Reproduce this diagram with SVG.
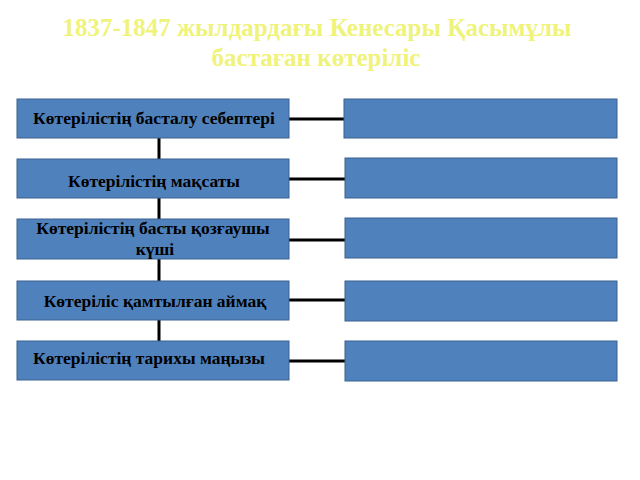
<svg xmlns="http://www.w3.org/2000/svg" width="640" height="480" viewBox="0 0 640 480">
<style>
.title{font-family:"Liberation Serif","Times New Roman",serif;font-weight:bold;font-size:25px;fill:#eff37a;text-anchor:middle}
.box{fill:#4f81bd;stroke:#3b618f;stroke-width:1}
.lbl{font-family:"Liberation Serif","Times New Roman",serif;font-weight:bold;font-size:17.5px;fill:#000;text-anchor:middle}
.con{stroke:#000;stroke-width:3;fill:none}
</style>
<rect width="640" height="480" fill="#fff"/>
<g id="title">
<text class="title" x="317" y="36">1837-1847 жылдардағы Кенесары Қасымұлы</text>
<text class="title" x="316" y="66">бастаған көтеріліс</text>
</g>
<g id="connectors">
<line class="con" x1="159" y1="138" x2="159" y2="341"/>
<line class="con" x1="289" y1="119" x2="345" y2="119"/>
<line class="con" x1="289" y1="179" x2="345" y2="179"/>
<line class="con" x1="289" y1="240" x2="345" y2="240"/>
<line class="con" x1="289" y1="300" x2="345" y2="300"/>
<line class="con" x1="289" y1="361" x2="345" y2="361"/>
</g>
<g id="n1"><rect class="box" x="17" y="99" width="272" height="39"/><text class="lbl" x="154" y="124">Көтерілістің басталу себептері</text></g>
<g id="n2"><rect class="box" x="17" y="159" width="272" height="39"/><text class="lbl" x="154" y="187">Көтерілістің мақсаты</text></g>
<g id="n3"><rect class="box" x="17" y="219" width="272" height="40"/><text class="lbl" x="153" y="234">Көтерілістің басты қозғаушы</text><text class="lbl" x="155" y="255">күші</text></g>
<g id="n4"><rect class="box" x="17" y="281" width="272" height="39"/><text class="lbl" x="155" y="307">Көтеріліс қамтылған аймақ</text></g>
<g id="n5"><rect class="box" x="17" y="341" width="272" height="39"/><text class="lbl" x="149" y="364">Көтерілістің тарихы маңызы</text></g>
<g id="r1"><rect class="box" x="344" y="99" width="273" height="39"/></g>
<g id="r2"><rect class="box" x="345" y="158" width="272" height="40"/></g>
<g id="r3"><rect class="box" x="345" y="218" width="272" height="40"/></g>
<g id="r4"><rect class="box" x="345" y="281" width="272" height="40"/></g>
<g id="r5"><rect class="box" x="345" y="341" width="272" height="40"/></g>
</svg>
